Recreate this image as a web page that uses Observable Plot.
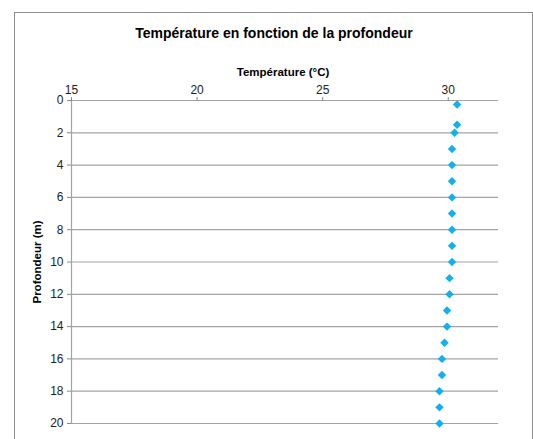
<!DOCTYPE html>
<html>
<head>
<meta charset="utf-8">
<script src="https://cdn.jsdelivr.net/npm/d3@7"></script>
<script src="https://cdn.jsdelivr.net/npm/@observablehq/plot@0.6"></script>
<style>
  html, body { margin: 0; padding: 0; background: white; }
  #chart { position: relative; width: 533px; height: 439px; overflow: hidden; }
</style>
</head>
<body>
<div id="chart"></div>
<script>
const title = "Température en fonction de la profondeur";
const xLabel = "Température (°C)";
const yLabel = "Profondeur (m)";
const depth = [0.25, 1.5, 2, 3, 4, 5, 6, 7, 8, 9, 10, 11, 12, 13, 14, 15, 16, 17, 18, 19, 20];
const temperature = [30.35, 30.35, 30.25, 30.15, 30.15, 30.15, 30.15, 30.15, 30.15, 30.15, 30.15, 30.05, 30.05, 29.95, 29.95, 29.85, 29.75, 29.75, 29.65, 29.65, 29.65];
const xTicks = [15, 20, 25, 30];
const yTicks = [0, 2, 4, 6, 8, 10, 12, 14, 16, 18, 20];

const data = depth.map((d, i) => ({depth: d, temp: temperature[i]}));
const font = "'Liberation Sans', Arial, sans-serif";

const chart = Plot.plot({
  width: 533,
  height: 439,
  marginLeft: 71,
  marginRight: 35,
  marginTop: 100,
  marginBottom: 16,
  style: {fontFamily: font, fontSize: "12px", color: "#222", background: "white", overflow: "visible"},
  x: {domain: [15, 32], axis: null},
  y: {domain: [0, 20], reverse: true, axis: null},
  marks: [
    Plot.ruleY(yTicks, {stroke: "#a3a3a3", strokeWidth: 1.2}),
    Plot.ruleX([15], {stroke: "#a3a3a3", strokeWidth: 1.2}),
    Plot.axisX({anchor: "top", ticks: xTicks, tickSize: 4, tickPadding: 3, stroke: "#888", fill: "#222", label: null, fontSize: 12}),
    Plot.axisY({anchor: "left", ticks: yTicks, tickSize: 4, tickPadding: 4, stroke: "#888", fill: "#222", label: null, fontSize: 12}),
    Plot.dot(data, {x: "temp", y: "depth", symbol: "diamond2", r: 3.8, fill: "#12B0F0", stroke: "none"}),
    Plot.text([title], {frameAnchor: "top", textAnchor: "middle", lineAnchor: "middle", dx: -11, dy: -67, fontWeight: "bold", fontSize: 14, fill: "#000"}),
    Plot.text([xLabel], {frameAnchor: "top", textAnchor: "middle", lineAnchor: "middle", dx: -2, dy: -28, fontWeight: "bold", fontSize: 11.5, fill: "#000"}),
    Plot.text([yLabel], {frameAnchor: "left", textAnchor: "middle", lineAnchor: "middle", dx: -34, rotate: -90, fontWeight: "bold", fontSize: 11.5, fill: "#000"})
  ]
});

d3.select(chart).append("rect")
  .attr("x", 14.5).attr("y", 12.5)
  .attr("width", 518).attr("height", 440)
  .attr("fill", "none").attr("stroke", "#8c8c8c").attr("stroke-width", 1);

document.getElementById("chart").appendChild(chart);
</script>
</body>
</html>
